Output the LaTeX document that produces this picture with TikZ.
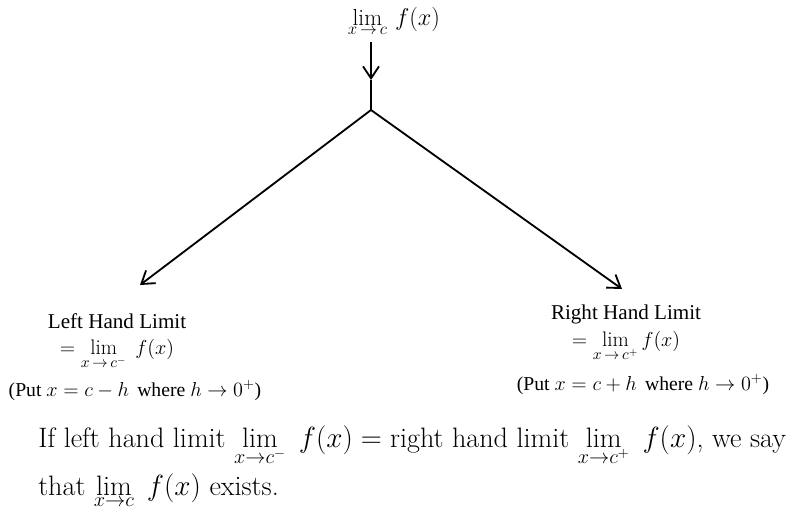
\documentclass[tikz,border=0pt]{standalone}
\usepackage{fontspec}
\newfontfamily\timesfont{Liberation Serif}
\usetikzlibrary{arrows.meta, positioning}

\tikzset{
  limline/.style={line width=1.3pt},
  limarrow/.style={limline, -{Straight Barb[length=3mm, width=4mm, line width=1.3pt]}},
  sidelabel/.style={font=\timesfont\fontsize{15}{17}\selectfont, align=center, inner sep=0pt},
  toplabel/.style={font=\timesfont\fontsize{16.5}{18}\selectfont, inner sep=0pt},
  puttext/.style={font=\timesfont\fontsize{14}{16}\selectfont, inner sep=0pt},
  bodytext/.style={font=\fontsize{20}{24}\selectfont, anchor=base west, inner sep=0pt}
}

\begin{document}
\begin{tikzpicture}[x=0.025cm, y=-0.025cm]
  \useasboundingbox (0,0) rectangle (791,521);

  % the limit on top and where it splits
  \node[toplabel, anchor=base] (top) at (394,25)
    {$\lim\limits_{x\,\to\,c}\, f(x)$};
  \coordinate (vtip) at (371,80);
  \coordinate (split) at (371,110);
  \coordinate (ltip) at (140,285);
  \coordinate (rtip) at (622,289);

  % left and right limits
  \node[sidelabel, anchor=north] (lhl) at (117,313)
    {Left Hand Limit\\[2pt] $=\lim\limits_{x\,\to\,c^-}\; f(x)$};
  \node[puttext, anchor=base] (lput) at (135,396)
    {(Put $x=c-h$\, where $h\to 0^{+}$)};
  \node[sidelabel, anchor=north] (rhl) at (626,305)
    {Right Hand Limit\\[2pt] $=\lim\limits_{x\,\to\,c^+} f(x)$};
  \node[puttext, anchor=base] (rput) at (643,390)
    {(Put $x=c+h$\, where $h\to 0^{+}$)};

  \draw[limarrow] ([yshift=-4pt]top.south -| vtip) -- (vtip);
  \draw[limline] (vtip) -- (split);
  \draw[limarrow] (split) -- (ltip);
  \draw[limarrow] (split) -- (rtip);

  % the condition below
  \node[bodytext] (cond) at (38,447)
    {If left hand limit $\displaystyle\lim_{x\to c^-}\; f(x) = {}$right hand limit $\displaystyle\lim_{x\to c^+}\; f(x)$, we say};
  \node[bodytext] (exists) at (38,495)
    {that $\displaystyle\lim_{x\to c}\; f(x)$ exists.};
\end{tikzpicture}
\end{document}
